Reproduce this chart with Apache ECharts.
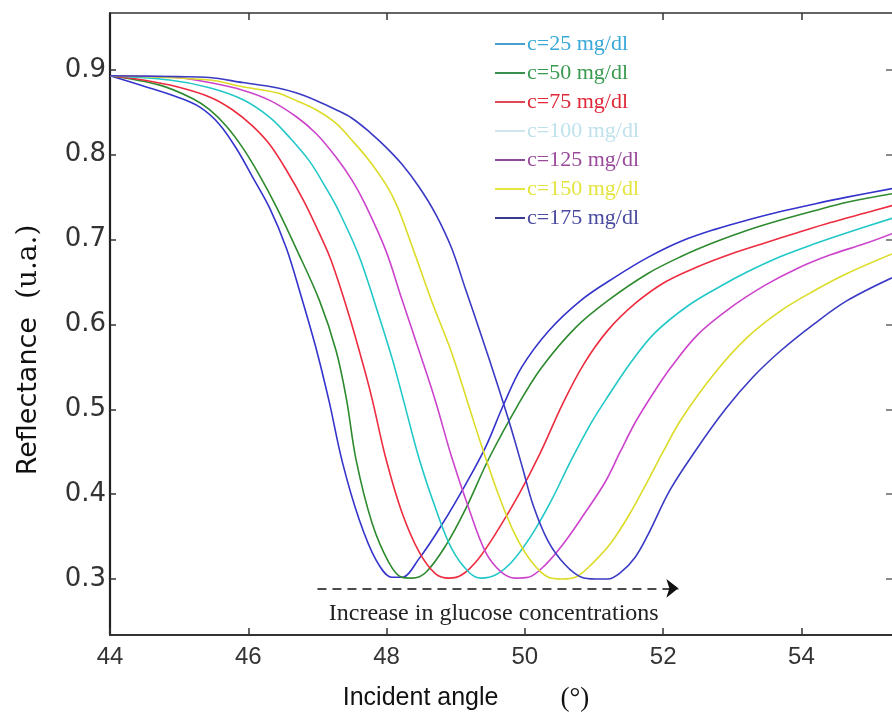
<!DOCTYPE html>
<html>
<head>
<meta charset="utf-8">
<script src="https://cdn.jsdelivr.net/npm/echarts@6/dist/echarts.min.js"></script>
<style>html,body{margin:0;padding:0;background:#fff;}#c{width:892px;height:718px;}</style>
</head>
<body>
<div id="c"></div>
<script>
const seriesNames = ['c=25 mg/dl','c=50 mg/dl','c=75 mg/dl','c=100 mg/dl','c=125 mg/dl','c=150 mg/dl','c=175 mg/dl'];
const xTicks = [44,46,48,50,52,54];
const xTopTicks = [46,48,52,54];
const yTicks = [0.3,0.4,0.5,0.6,0.7,0.8,0.9];

const c25 = [[44,0.893],[44.48,0.881],[44.97,0.868],[45.3,0.856],[45.58,0.836],[45.83,0.807],[46.06,0.774],[46.31,0.737],[46.55,0.690],[46.74,0.640],[46.98,0.572],[47.17,0.509],[47.36,0.438],[47.6,0.371],[47.85,0.322],[48.08,0.302],[48.22,0.302],[48.47,0.324],[48.8,0.364],[49.14,0.411],[49.43,0.455],[49.69,0.505],[49.95,0.549],[50.34,0.592],[50.82,0.629],[51.31,0.656],[51.78,0.679],[52.26,0.698],[52.75,0.712],[53.22,0.723],[53.7,0.733],[54.19,0.742],[54.66,0.750],[55.31,0.760]];
const c50 = [[44,0.893],[44.72,0.882],[45.2,0.866],[45.44,0.853],[45.69,0.833],[45.92,0.808],[46.16,0.776],[46.41,0.738],[46.69,0.690],[47.03,0.628],[47.27,0.569],[47.42,0.512],[47.56,0.440],[47.79,0.366],[48.03,0.320],[48.22,0.302],[48.37,0.301],[48.57,0.308],[48.86,0.340],[49.14,0.382],[49.48,0.442],[49.9,0.505],[50.24,0.549],[50.73,0.596],[51.2,0.628],[51.78,0.660],[52.26,0.680],[52.75,0.697],[53.22,0.711],[53.7,0.723],[54.19,0.734],[54.66,0.744],[55.31,0.754]];
const c75 = [[44,0.893],[44.48,0.888],[44.97,0.880],[45.44,0.868],[45.77,0.853],[46.06,0.834],[46.31,0.812],[46.55,0.782],[46.8,0.746],[47.03,0.707],[47.2,0.675],[47.46,0.610],[47.7,0.541],[47.8,0.509],[47.99,0.442],[48.22,0.379],[48.47,0.332],[48.71,0.306],[48.9,0.301],[49.09,0.305],[49.33,0.324],[49.62,0.359],[49.91,0.399],[50.22,0.448],[50.55,0.507],[50.85,0.553],[51.2,0.593],[51.6,0.625],[52.03,0.650],[52.5,0.668],[52.98,0.683],[53.47,0.696],[53.94,0.708],[54.42,0.720],[54.91,0.731],[55.31,0.740]];
const c100 = [[44,0.893],[44.86,0.888],[45.44,0.879],[45.92,0.865],[46.31,0.844],[46.59,0.821],[46.88,0.793],[47.13,0.760],[47.3,0.735],[47.6,0.681],[47.85,0.620],[48.08,0.560],[48.25,0.509],[48.47,0.442],[48.71,0.383],[48.94,0.336],[49.19,0.308],[49.37,0.301],[49.58,0.305],[49.81,0.320],[50.1,0.352],[50.38,0.392],[50.67,0.440],[50.96,0.484],[51.2,0.515],[51.54,0.556],[51.88,0.590],[52.36,0.622],[52.83,0.645],[53.22,0.662],[53.7,0.680],[54.19,0.695],[54.66,0.708],[55.31,0.725]];
const c125 = [[44,0.893],[44.97,0.891],[45.44,0.885],[45.92,0.876],[46.31,0.864],[46.69,0.845],[46.98,0.825],[47.27,0.797],[47.5,0.770],[47.7,0.740],[47.99,0.687],[48.22,0.630],[48.47,0.569],[48.71,0.509],[48.94,0.444],[49.19,0.383],[49.43,0.332],[49.66,0.308],[49.86,0.301],[50.05,0.302],[50.3,0.317],[50.58,0.344],[50.87,0.378],[51.16,0.414],[51.38,0.450],[51.6,0.485],[51.85,0.518],[52.1,0.548],[52.5,0.588],[52.98,0.620],[53.47,0.646],[53.94,0.666],[54.42,0.682],[54.91,0.695],[55.31,0.707]];
const c150 = [[44,0.893],[45.44,0.888],[45.92,0.880],[46.41,0.873],[46.69,0.864],[46.98,0.853],[47.27,0.837],[47.5,0.817],[47.75,0.793],[47.99,0.765],[48.15,0.740],[48.37,0.692],[48.65,0.628],[48.94,0.567],[49.17,0.509],[49.37,0.458],[49.62,0.399],[49.86,0.352],[50.1,0.320],[50.34,0.302],[50.53,0.300],[50.73,0.302],[50.96,0.317],[51.25,0.343],[51.54,0.380],[51.78,0.416],[52.0,0.450],[52.26,0.488],[52.75,0.543],[53.22,0.585],[53.7,0.616],[54.19,0.640],[54.66,0.660],[55.31,0.683]];
const c175 = [[44,0.893],[44.97,0.892],[45.44,0.891],[45.92,0.885],[46.41,0.879],[46.69,0.873],[46.98,0.864],[47.27,0.853],[47.5,0.843],[47.75,0.827],[47.99,0.809],[48.22,0.789],[48.47,0.762],[48.71,0.730],[48.94,0.690],[49.14,0.642],[49.37,0.587],[49.6,0.530],[49.8,0.478],[49.97,0.430],[50.12,0.387],[50.34,0.344],[50.58,0.317],[50.82,0.302],[51.02,0.300],[51.2,0.300],[51.39,0.308],[51.59,0.325],[51.78,0.352],[52.1,0.405],[52.5,0.455],[52.9,0.500],[53.3,0.538],[53.7,0.569],[54.19,0.601],[54.66,0.628],[55.31,0.655]];

const seriesData = [c25,c50,c75,c100,c125,c150,c175];
const curveColors = ['#3434cc','#2e8a2e','#ee2c40','#22c8c8','#cc44cc','#dcdc28','#3a3ac4'];
const legendLineColors = ['#4aa0d0','#3a9050','#e04858','#cfe6ee','#8a4a9a','#e6e63c','#3a3a8c'];
const legendTextColors = ['#38a8d8','#3a9a50','#e02838','#bfe2ec','#9a4a9a','#e4e440','#4a4aa0'];
const arrowStart = [47.0, 0.289];
const arrowEnd = [52.22, 0.289];
const annotationText = 'Increase in glucose concentrations';
const annotationAt = [49.55, 0.259];

const chart = echarts.init(document.getElementById('c'), null, {renderer:'canvas'});
const series = seriesData.map((d,i)=>({
  name: seriesNames[i], type:'line', data:d, xAxisIndex:0, yAxisIndex:0,
  showSymbol:false, smooth:0.35, clip:true,
  lineStyle:{color:curveColors[i], width:1.6}, itemStyle:{color:curveColors[i]},
  z: 3
}));
series[0].markLine = {
  silent:true, symbol:['none','arrow'], symbolSize:[14,12],
  lineStyle:{color:'#111', type:[9,6], width:1.6},
  label:{show:false},
  data:[[{coord:arrowStart},{coord:arrowEnd}]]
};
series[0].markPoint = {
  silent:true, symbol:'circle', symbolSize:0,
  label:{show:true, position:'inside', formatter:annotationText, fontFamily:'Liberation Serif', fontSize:24, color:'#222'},
  data:[{coord:annotationAt}]
};

const option = {
  animation:false,
  backgroundColor:'#fff',
  grid:{left:110, top:13, right:-2, bottom:83, containLabel:false},
  legend:{
    orient:'vertical', left:490, top:28, itemWidth:30, itemHeight:2, itemGap:7, icon:'rect',
    textStyle:{fontFamily:'Liberation Serif', fontSize:22, lineHeight:20, padding:[0,0,0,-3]},
    data: seriesNames.map((n,i)=>({name:n, itemStyle:{color:legendLineColors[i]}, textStyle:{color:legendTextColors[i]}}))
  },
  xAxis:[{
    type:'value', min:44, max:55.31, position:'bottom',
    axisLine:{show:true, lineStyle:{color:'#333', width:2.2}},
    axisTick:{show:true, inside:true, length:7, customValues:xTicks, lineStyle:{color:'#333', width:1.5}},
    axisLabel:{customValues:xTicks, color:'#333', fontSize:24, fontFamily:'Liberation Sans', margin:10},
    splitLine:{show:false},
    name:'{a|Incident angle}{b|(°)}', nameLocation:'middle', nameGap:50,
    nameTextStyle:{padding:[0,70,0,0], rich:{a:{fontFamily:'Liberation Sans', fontSize:25, color:'#111'}, b:{fontFamily:'Liberation Serif', fontSize:27, color:'#111', padding:[0,0,0,62]}}}
  },{
    type:'value', min:44, max:55.31, position:'top',
    axisLine:{show:true, lineStyle:{color:'#333', width:1.6}},
    axisTick:{show:true, inside:true, length:7, customValues:xTopTicks, lineStyle:{color:'#333', width:1.5}},
    axisLabel:{show:false}, splitLine:{show:false}
  }],
  yAxis:[{
    type:'value', min:0.234, max:0.967, position:'left',
    axisLine:{show:true, lineStyle:{color:'#222', width:2.2}},
    axisTick:{show:true, inside:true, length:6, customValues:yTicks, lineStyle:{color:'#333', width:1.5}},
    axisLabel:{customValues:yTicks, formatter:v=>v.toFixed(1), color:'#333', fontSize:26, fontFamily:'DejaVu Sans', margin:4},
    splitLine:{show:false},
    name:'{a|Reflectance}{b|(u.a.)}', nameLocation:'middle', nameRotate:90, nameGap:67,
    nameTextStyle:{padding:[0,52,0,0], rich:{a:{fontFamily:'DejaVu Sans', fontSize:27, color:'#111'}, b:{fontFamily:'DejaVu Serif', fontSize:28, color:'#111', padding:[0,0,0,18]}}}
  },{
    type:'value', min:0.234, max:0.967, position:'right',
    axisLine:{show:false},
    axisTick:{show:true, inside:true, length:6, customValues:yTicks, lineStyle:{color:'#666', width:1.5}},
    axisLabel:{show:false}, splitLine:{show:false}
  }],
  series: series
};
chart.setOption(option);
</script>
</body>
</html>
